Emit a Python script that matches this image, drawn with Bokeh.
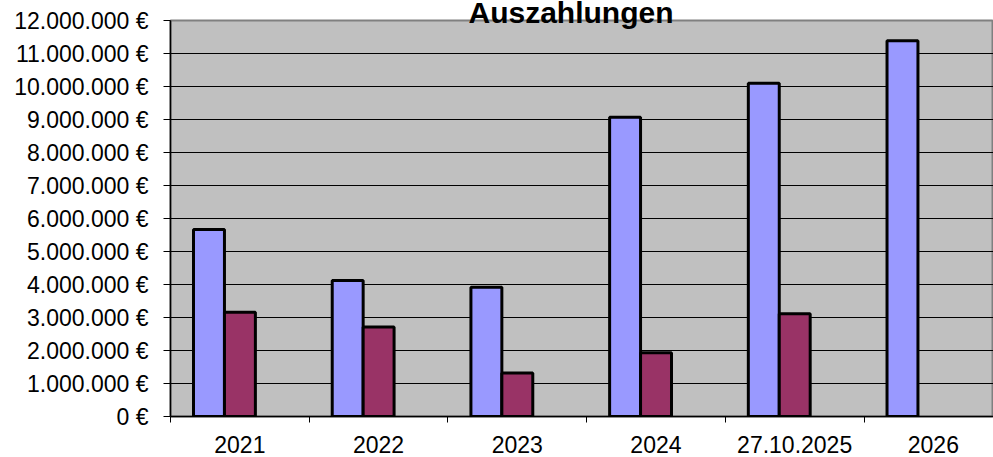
from bokeh.plotting import figure
from bokeh.models import FixedTicker, Range1d, ColumnDataSource
from bokeh.embed import file_html
from bokeh.resources import INLINE

# ---- data ----
categories = ["2021", "2022", "2023", "2024", "27.10.2025", "2026"]
series_blue = [5670000, 4120000, 3920000, 9070000, 10100000, 11390000]
series_purple = [3160000, 2710000, 1320000, 1930000, 3110000, None]
y_tick_values = [i * 1000000 for i in range(13)]
y_tick_labels = ["0 €", "1.000.000 €", "2.000.000 €", "3.000.000 €", "4.000.000 €",
                 "5.000.000 €", "6.000.000 €", "7.000.000 €", "8.000.000 €",
                 "9.000.000 €", "10.000.000 €", "11.000.000 €", "12.000.000 €"]
title_text = "Auszahlungen"

# ---- layout ----
W, H = 993, 457
left_px, top_px, bottom_px = 170, 20, 41
cat_px = 138.7
frame_w = W - left_px
x_end = frame_w / cat_px

bar_w = 0.223
off_blue = 0.166 + bar_w / 2
off_purple = off_blue + bar_w

p = figure(width=W, height=H, output_backend="svg", toolbar_location=None,
           x_range=Range1d(0, x_end), y_range=Range1d(0, 12000000),
           min_border_left=left_px, min_border_right=0,
           min_border_top=top_px, min_border_bottom=bottom_px,
           background_fill_color="#C0C0C0", border_fill_color="white")
p.outline_line_color = "#808080"
p.outline_line_width = 2

# title (top is cut by the page edge, as in the reference)
p.title.text = title_text
p.title.align = "left"
p.title.text_font = "Liberation Sans"
p.title.text_font_style = "bold"
p.title.text_font_size = "30px"
p.title.text_color = "black"
p.title.standoff = -16
p.title.offset = 298

blue_src = ColumnDataSource(dict(x=[i + off_blue for i in range(len(categories))],
                                 top=series_blue))
px, pt = [], []
for i, v in enumerate(series_purple):
    if v is not None:
        px.append(i + off_purple)
        pt.append(v)
purple_src = ColumnDataSource(dict(x=px, top=pt))

p.vbar(x="x", top="top", width=bar_w, bottom=0, source=blue_src,
       fill_color="#9999FF", line_color="black", line_width=3)
p.vbar(x="x", top="top", width=bar_w, bottom=0, source=purple_src,
       fill_color="#993366", line_color="black", line_width=3)

# y axis
yax = p.yaxis[0]
yax.ticker = FixedTicker(ticks=y_tick_values)
yax.major_label_overrides = {v: s for v, s in zip(y_tick_values, y_tick_labels)}
yax.major_label_text_font = "Liberation Sans"
yax.major_label_text_font_size = "23px"
yax.major_label_text_color = "black"
yax.major_tick_out = 7
yax.major_tick_in = 0
yax.minor_tick_out = 0
yax.minor_tick_in = 0
yax.major_label_standoff = 15
yax.axis_line_color = "black"
yax.axis_line_width = 1.5

# x axis
centers = [i + 0.5 for i in range(len(categories))]
xax = p.xaxis[0]
xax.ticker = FixedTicker(ticks=centers, minor_ticks=list(range(len(categories) + 1)))
xax.major_label_overrides = {c: s for c, s in zip(centers, categories)}
xax.major_label_text_font = "Liberation Sans"
xax.major_label_text_font_size = "23px"
xax.major_label_text_color = "black"
xax.major_tick_out = 0
xax.major_tick_in = 0
xax.minor_tick_out = 6
xax.minor_tick_in = 0
xax.minor_tick_line_color = "black"
xax.major_label_standoff = 13
xax.axis_line_color = "black"
xax.axis_line_width = 1.5

p.xgrid.visible = False
p.ygrid.ticker = FixedTicker(ticks=y_tick_values[1:-1])
p.ygrid.grid_line_color = "black"
p.ygrid.grid_line_width = 1

open("out.html", "w").write(file_html(p, INLINE))
